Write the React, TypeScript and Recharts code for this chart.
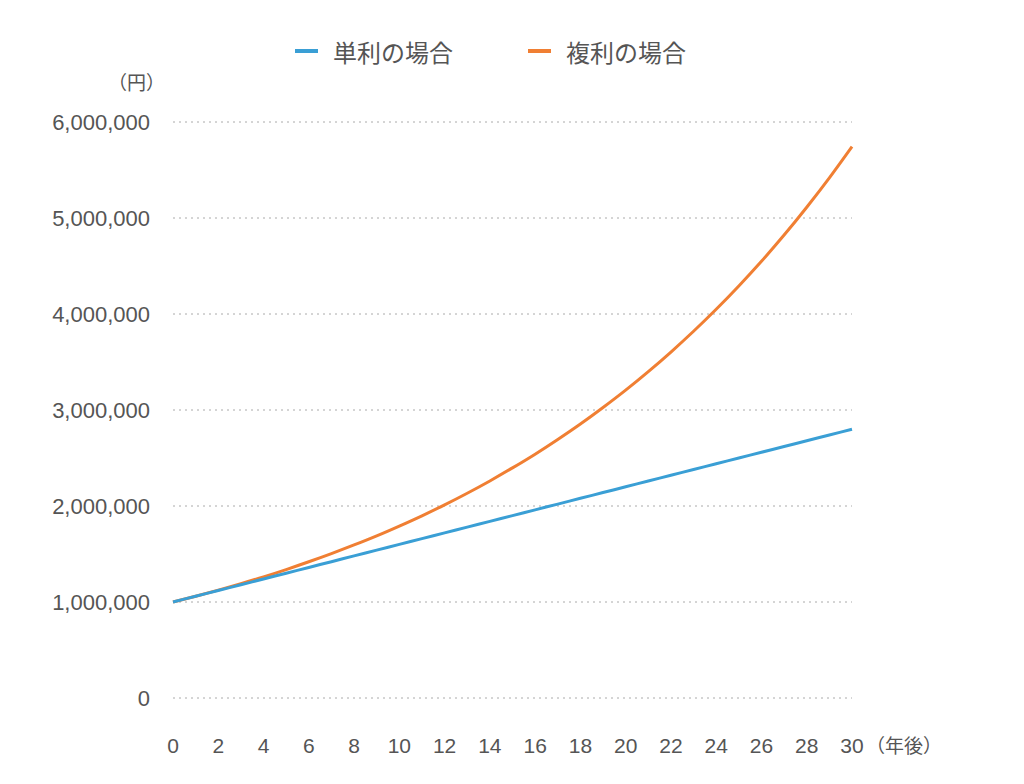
import { LineChart, Line, XAxis, YAxis, CartesianGrid } from "recharts"

const years = [0, 1, 2, 3, 4, 5, 6, 7, 8, 9, 10, 11, 12, 13, 14, 15, 16, 17, 18, 19, 20, 21, 22, 23, 24, 25, 26, 27, 28, 29, 30]

// 単利の場合
const simple = [
  1000000, 1060000, 1120000, 1180000, 1240000, 1300000, 1360000, 1420000, 1480000, 1540000,
  1600000, 1660000, 1720000, 1780000, 1840000, 1900000, 1960000, 2020000, 2080000, 2140000,
  2200000, 2260000, 2320000, 2380000, 2440000, 2500000, 2560000, 2620000, 2680000, 2740000,
  2800000,
]

// 複利の場合
const compound = [
  1000000, 1060000, 1124000, 1191000, 1262000, 1338000, 1419000, 1504000, 1594000, 1689000,
  1791000, 1898000, 2012000, 2133000, 2261000, 2397000, 2540000, 2693000, 2854000, 3026000,
  3207000, 3400000, 3604000, 3820000, 4049000, 4292000, 4549000, 4822000, 5112000, 5418000,
  5743000,
]

const xTicks = [0, 2, 4, 6, 8, 10, 12, 14, 16, 18, 20, 22, 24, 26, 28, 30]
const yTicks = [0, 1000000, 2000000, 3000000, 4000000, 5000000, 6000000]

const C = {
  blue: "#3a9fd5",
  orange: "#f07f33",
  text: "#555555",
  grid: "#aaaaaa",
}

const FONT = '"Liberation Sans", "Noto Sans CJK JP", sans-serif'

const data = years.map((y, i) => ({ year: y, simple: simple[i], compound: compound[i] }))

// legend drawn as plain html above the plot
function LegendBox() {
  const items = [
    { name: "単利の場合", color: C.blue },
    { name: "複利の場合", color: C.orange },
  ]
  return (
    <div
      style={{
        position: "absolute",
        left: 287,
        top: 28,
        height: 30,
        display: "flex",
        alignItems: "center",
        fontFamily: FONT,
        fontSize: 24,
        color: C.text,
      }}
    >
      {items.map((it, i) => (
        <div key={it.name} style={{ display: "flex", alignItems: "center", marginRight: i === 0 ? 75 : 0 }}>
          <span style={{ display: "inline-block", width: 23, height: 4, background: it.color, marginRight: 15 }} />
          <span>{it.name}</span>
        </div>
      ))}
    </div>
  )
}

export default function App() {
  return (
    <div style={{ position: "relative", width: 1008, height: 768, background: "#fff", fontFamily: FONT }}>
      <LineChart width={1000} height={768} data={data} margin={{ top: 114, right: 156, bottom: 48, left: 0 }}>
        <CartesianGrid horizontal vertical={false} stroke={C.grid} strokeDasharray="2 4" />
        <XAxis
          dataKey="year"
          type="number"
          domain={[0, 30]}
          ticks={xTicks}
          height={30}
          axisLine={false}
          tickLine={false}
          tickMargin={34}
          tick={{ fontSize: 21, fill: C.text, fontFamily: FONT }}
          interval={0}
        />
        <YAxis
          type="number"
          domain={[0, 6000000]}
          ticks={yTicks}
          width={165}
          axisLine={false}
          tickLine={false}
          tickMargin={17}
          tick={{ fontSize: 22, fill: C.text, fontFamily: FONT }}
          tickFormatter={(v: number) => v.toLocaleString("en-US")}
        />
        <Line type="monotone" dataKey="compound" stroke={C.orange} strokeWidth={3} dot={false} isAnimationActive={false} />
        <Line type="monotone" dataKey="simple" stroke={C.blue} strokeWidth={3} dot={false} isAnimationActive={false} />
      </LineChart>
      <LegendBox />
      <div style={{ position: "absolute", left: 100, top: 60, fontSize: 19, color: C.text, fontFamily: FONT }}>（円）</div>
      <div style={{ position: "absolute", left: 858, top: 723, fontSize: 19, color: C.text, fontFamily: FONT }}>（年後）</div>
    </div>
  )
}
